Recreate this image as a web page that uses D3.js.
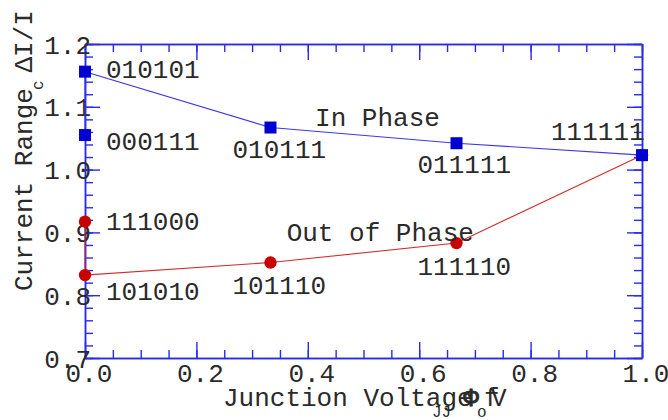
<!DOCTYPE html>
<html>
<head>
<meta charset="utf-8">
<script src="https://cdn.jsdelivr.net/npm/d3@7"></script>
<style>
  body { margin: 0; background: #fff; }
  svg text { font-family: "Liberation Mono", "Courier New", monospace; fill: #2a2a2a; }
</style>
</head>
<body>
<svg id="chart" width="668" height="420"></svg>
<script>
// x positions of the states (fraction of junction voltage)
var xValues = [0, 0, 0.333, 0.667, 1.0];
var inPhase = [1.055, 1.156, 1.067, 1.042, 1.023];
var inPhaseLabels = ['000111', '010101', '010111', '011111', '111111'];
var outPhase = [0.917, 0.832, 0.852, 0.883, 1.023];
var outPhaseLabels = ['111000', '101010', '101110', '111110', ''];

var xMajor = [0, 0.2, 0.4, 0.6, 0.8, 1.0];
var xMajorLabels = ['0.0', '0.2', '0.4', '0.6', '0.8', '1.0'];
var yMajor = [0.7, 0.8, 0.9, 1.0, 1.1, 1.2];
var yMajorLabels = ['0.7', '0.8', '0.9', '1.0', '1.1', '1.2'];

// label offsets in px from the point (left edge, baseline)
var inOffsets = [[21, 15], [21, 6], [-38, 30], [-39, 30], [-91, -15]];
var outOffsets = [[21, 8], [21, 25], [-38, 31], [-39, 32], [0, 0]];

var svg = d3.select('#chart');
var pLeft = 85, pRight = 642, pTop = 44, pBottom = 358;
var fs = 26;

var x = d3.scaleLinear().domain([0, 1]).range([pLeft, pRight]);
var y = d3.scaleLinear().domain([0.7, 1.2]).range([pBottom, pTop]);

var axisColor = '#2a2aee';

var xMinor = d3.range(0, 1.0001, 0.05);
var yMinor = d3.range(0.7, 1.2001, 0.02);

function styleAxis(g) {
	g.select('.domain').attr('stroke', axisColor).attr('stroke-width', 1.5);
	g.selectAll('.tick line').attr('stroke', axisColor).attr('stroke-width', 1.4);
	g.selectAll('text').remove();
}

// minor ticks
svg.append('g').attr('transform', 'translate(0,' + pBottom + ')')
	.call(d3.axisBottom(x).tickValues(xMinor).tickSize(-8).tickSizeOuter(0)).call(styleAxis);
svg.append('g').attr('transform', 'translate(0,' + pTop + ')')
	.call(d3.axisTop(x).tickValues(xMinor).tickSize(-8).tickSizeOuter(0)).call(styleAxis);
svg.append('g').attr('transform', 'translate(' + pLeft + ',0)')
	.call(d3.axisLeft(y).tickValues(yMinor).tickSize(-8).tickSizeOuter(0)).call(styleAxis);
svg.append('g').attr('transform', 'translate(' + pRight + ',0)')
	.call(d3.axisRight(y).tickValues(yMinor).tickSize(-8).tickSizeOuter(0)).call(styleAxis);

// major ticks
svg.append('g').attr('transform', 'translate(0,' + pBottom + ')')
	.call(d3.axisBottom(x).tickValues(xMajor).tickSize(-16).tickSizeOuter(0)).call(styleAxis);
svg.append('g').attr('transform', 'translate(0,' + pTop + ')')
	.call(d3.axisTop(x).tickValues(xMajor).tickSize(-16).tickSizeOuter(0)).call(styleAxis);
svg.append('g').attr('transform', 'translate(' + pLeft + ',0)')
	.call(d3.axisLeft(y).tickValues(yMajor).tickSize(-15).tickSizeOuter(0)).call(styleAxis);
svg.append('g').attr('transform', 'translate(' + pRight + ',0)')
	.call(d3.axisRight(y).tickValues(yMajor).tickSize(-15).tickSizeOuter(0)).call(styleAxis);

// tick labels
svg.append('g').selectAll('text').data(xMajor).enter().append('text')
	.attr('x', function(d) { return x(d) + 4; })
	.attr('y', 382)
	.attr('text-anchor', 'middle')
	.attr('font-size', fs)
	.text(function(d, i) { return xMajorLabels[i]; });

svg.append('g').selectAll('text').data(yMajor).enter().append('text')
	.attr('x', pLeft + 6)
	.attr('y', function(d) { return y(d) + 9.5; })
	.attr('text-anchor', 'end')
	.attr('font-size', fs)
	.text(function(d, i) { return yMajorLabels[i]; });

// lines
var line = d3.line()
	.x(function(d) { return x(d[0]); })
	.y(function(d) { return y(d[1]); });

var outPts = xValues.map(function(v, i) { return [v, outPhase[i]]; });
var inPts = xValues.map(function(v, i) { return [v, inPhase[i]]; });

svg.append('path').datum(outPts).attr('d', line)
	.attr('fill', 'none').attr('stroke', '#d42a2a').attr('stroke-width', 1.1);
svg.append('path').datum(inPts).attr('d', line)
	.attr('fill', 'none').attr('stroke', '#3a3aea').attr('stroke-width', 1.1);

// markers
svg.append('g').selectAll('circle').data(outPts).enter().append('circle')
	.attr('cx', function(d) { return x(d[0]); })
	.attr('cy', function(d) { return y(d[1]); })
	.attr('r', 6.2)
	.attr('fill', '#c80000');

svg.append('g').selectAll('rect').data(inPts).enter().append('rect')
	.attr('x', function(d) { return x(d[0]) - 6; })
	.attr('y', function(d) { return y(d[1]) - 6; })
	.attr('width', 12).attr('height', 12)
	.attr('fill', '#0000d0');

// point labels
svg.append('g').selectAll('text').data(inPts).enter().append('text')
	.attr('x', function(d, i) { return x(d[0]) + inOffsets[i][0]; })
	.attr('y', function(d, i) { return y(d[1]) + inOffsets[i][1]; })
	.attr('font-size', fs)
	.text(function(d, i) { return inPhaseLabels[i]; });

svg.append('g').selectAll('text').data(outPts).enter().append('text')
	.attr('x', function(d, i) { return x(d[0]) + outOffsets[i][0]; })
	.attr('y', function(d, i) { return y(d[1]) + outOffsets[i][1]; })
	.attr('font-size', fs)
	.text(function(d, i) { return outPhaseLabels[i]; });

svg.append('text').attr('x', x(0.413)).attr('y', y(1.069))
	.attr('font-size', fs).text('In Phase');
svg.append('text').attr('x', x(0.362)).attr('y', y(0.886))
	.attr('font-size', fs).text('Out of Phase');

// x title, with its odd overlapping symbols
svg.append('text').attr('x', 223).attr('y', 406).attr('font-size', fs).text('Junction Voltage');
svg.append('text').attr('x', 471).attr('y', 406).attr('font-size', fs).attr('text-anchor', 'middle')
	.attr('stroke', '#2a2a2a').attr('stroke-width', 0.8).text('\u03A6');
svg.append('text').attr('x', 484).attr('y', 406).attr('font-size', fs).text('f');
svg.append('text').attr('x', 491).attr('y', 406).attr('font-size', fs).text('V');
svg.append('text').attr('x', 432).attr('y', 417).attr('font-size', 16).text('JJ');
svg.append('text').attr('x', 477).attr('y', 417).attr('font-size', 16).text('o');

// y title
svg.append('text').attr('transform', 'translate(32,291) rotate(-90)')
	.attr('font-size', fs).text('Current Range \u0394I/I');
svg.append('text').attr('transform', 'translate(43,90) rotate(-90)')
	.attr('font-size', 16).text('c');
</script>
</body>
</html>
